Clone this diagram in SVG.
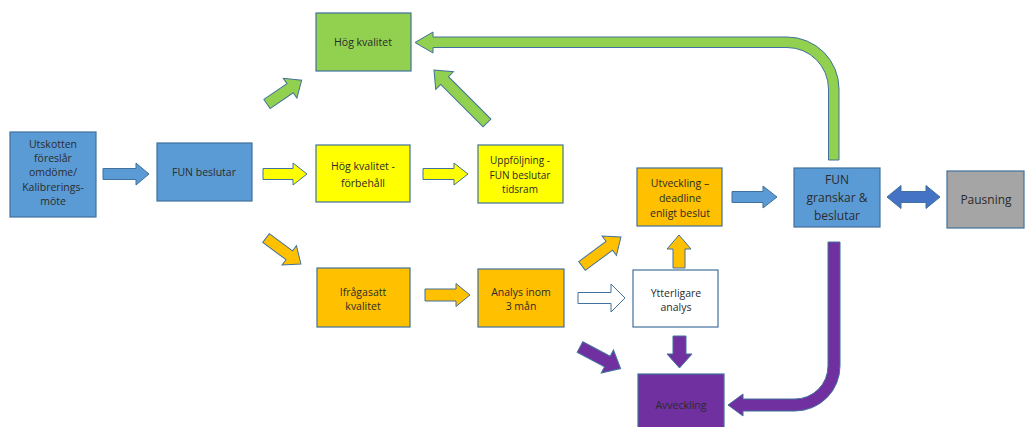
<svg xmlns="http://www.w3.org/2000/svg" width="1026" height="427" viewBox="0 0 1026 427">
<style>
.box{stroke:#41719c;stroke-width:1.2}
.blue{fill:#5b9bd5}.green{fill:#92d050}.yellow{fill:#ffff00}.orange{fill:#ffc000}.purple{fill:#7030a0}.gray{fill:#a5a5a5}.white{fill:#ffffff}.dblue{fill:#4472c4}
.arr{stroke:#41719c;stroke-width:1}
text{font-family:"Open Sans","Liberation Sans",sans-serif;font-size:10.5px;fill:#2b2b2b;text-anchor:middle}
.big{font-size:12px}
</style>
<defs>
<polygon id="ha" points="0,-5.5 33,-5.5 33,-11 46,0 33,11 33,5.5 0,5.5"/>
</defs>
<rect width="1026" height="427" fill="#ffffff"/>
<g id="connectors">
<!-- horizontal block arrows -->
<polygon class="arr blue" points="103,168.5 136,168.5 136,163 149,174 136,185 136,179.5 103,179.5"/>
<polygon class="arr yellow" points="263,168.5 293,168.5 293,163 307,174 293,185 293,179.5 263,179.5"/>
<polygon class="arr yellow" points="423,168.5 454,168.5 454,163 468,174 454,185 454,179.5 423,179.5"/>
<polygon class="arr orange" points="425,289 456,289 456,283.5 470,295 456,306.5 456,301 425,301"/>
<polygon class="arr white" points="578,292.5 611,292.5 611,284 625,298 611,312 611,303.5 578,303.5"/>
<polygon class="arr blue" points="732,191.5 763,191.5 763,186 777,197 763,208 763,202.5 732,202.5"/>
<polygon class="arr dblue" points="887,197 901,185.5 901,191.5 926,191.5 926,185.5 940,197 926,208.5 926,202.5 901,202.5 901,208.5"/>
<!-- diagonal arrows -->
<polygon class="arr green" transform="translate(267,104) rotate(-34.4)" points="0,-5.5 28,-5.5 28,-12 42,0 28,12 28,5.5 0,5.5"/>
<polygon class="arr green" transform="translate(487,123) rotate(-135)" points="0,-5.5 60,-5.5 60,-12.5 75,0 60,12.5 60,5.5 0,5.5"/>
<polygon class="arr orange" transform="translate(266,238) rotate(36.6)" points="0,-5.5 29,-5.5 29,-12 43.5,0 29,12 29,5.5 0,5.5"/>
<polygon class="arr orange" transform="translate(582,266) rotate(-36.6)" points="0,-5.5 34,-5.5 34,-12 48.5,0 34,12 34,5.5 0,5.5"/>
<polygon class="arr purple" transform="translate(580,347) rotate(28)" points="0,-6 31,-6 31,-13 46,0 31,13 31,6 0,6"/>
<!-- vertical arrows -->
<polygon class="arr orange" points="673,268 673,249 667,249 679,235 691,249 685,249 685,268"/>
<polygon class="arr purple" points="673,336 673,354 667,354 679.5,368 692,354 686,354 686,336"/>
<!-- bent green arrow -->
<path class="arr green" d="M839,160 L839,89 A52,52 0 0 0 787,37 L433,37 L433,32 L415,42.5 L433,53 L433,47.5 L787,47.5 A41.5,41.5 0 0 1 828.5,89 L828.5,160 Z"/>
<!-- bent purple arrow -->
<path class="arr purple" d="M828,242 L828,366 A33,33 0 0 1 795,399 L743,399 L743,394 L728,405 L743,416 L743,411 L795,411 A45,45 0 0 0 840,366 L840,242 Z"/>
</g>
<g id="n-utskotten"><rect class="box blue" x="10" y="132" width="86" height="85"/>
<text x="53" y="148">Utskotten</text><text x="53" y="162">föreslår</text><text x="53" y="176">omdöme/</text><text x="53" y="191">Kalibrerings-</text><text x="53" y="205">möte</text></g>
<g id="n-fun-beslutar"><rect class="box blue" x="157" y="143" width="95" height="58"/><text x="204" y="176">FUN beslutar</text></g>
<g id="n-hog"><rect class="box green" x="316" y="13" width="95" height="58"/><text x="363" y="46">Hög kvalitet</text></g>
<g id="n-forbehall"><rect class="box yellow" x="316" y="145" width="94" height="57"/><text x="363" y="170">Hög kvalitet -</text><text x="363" y="187">förbehåll</text></g>
<g id="n-uppfoljning"><rect class="box yellow" x="478" y="145" width="85" height="58"/><text x="520" y="164" style="font-size:10px">Uppföljning -</text><text x="520" y="179" style="font-size:10px">FUN beslutar</text><text x="520" y="193" style="font-size:10px">tidsram</text></g>
<g id="n-ifragasatt"><rect class="box orange" x="317" y="268" width="93" height="59"/><text x="363" y="296">Ifrågasatt</text><text x="363" y="310">kvalitet</text></g>
<g id="n-analys"><rect class="box orange" x="478" y="269" width="86" height="58"/><text x="521" y="296">Analys inom</text><text x="521" y="310">3 mån</text></g>
<g id="n-utveckling"><rect class="box orange" x="637" y="168" width="85" height="58"/><text x="680" y="187">Utveckling –</text><text x="680" y="202">deadline</text><text x="680" y="217">enligt beslut</text></g>
<g id="n-ytterligare"><rect class="box white" x="633" y="270" width="85" height="57"/><text x="676" y="297">Ytterligare</text><text x="676" y="311">analys</text></g>
<g id="n-avveckling"><rect class="box purple" x="638" y="374" width="86" height="66"/><text x="681" y="409">Avveckling</text></g>
<g id="n-fun-granskar"><rect class="box blue" x="794" y="168" width="86" height="59"/><text class="big" x="837" y="184">FUN</text><text class="big" x="837" y="202">granskar &amp;</text><text class="big" x="837" y="220">beslutar</text></g>
<g id="n-pausning"><rect class="box gray" x="947" y="171" width="77" height="57"/><text class="big" x="986" y="204">Pausning</text></g>
</svg>
